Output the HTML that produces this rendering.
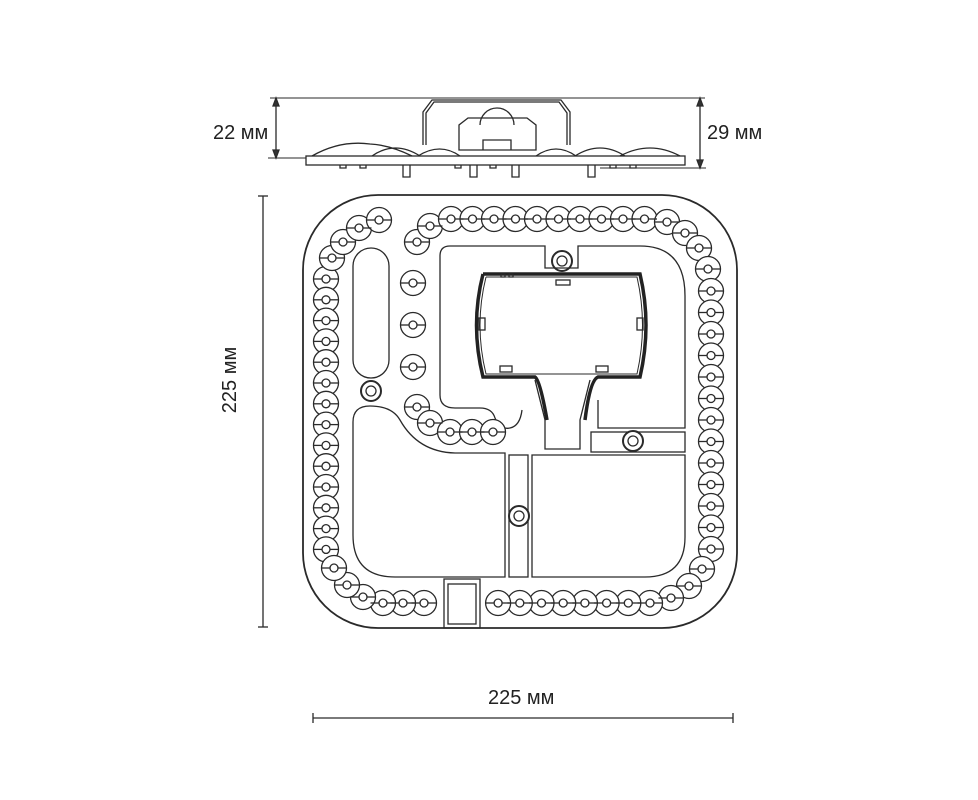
<!DOCTYPE html>
<html><head><meta charset="utf-8"><style>
html,body{margin:0;padding:0;background:#fff;}
svg{display:block;}
text{font-family:"Liberation Sans",sans-serif;font-size:20px;fill:#222;}
</style></head><body>
<svg id="s" width="978" height="800" viewBox="0 0 978 800" xmlns="http://www.w3.org/2000/svg">
<g fill="none" stroke="#2a2a2a" stroke-width="1.3">
<!-- side view -->
<line x1="270" y1="98" x2="705" y2="98" stroke-width="1"/>
<line x1="276" y1="98" x2="276" y2="158"/>
<line x1="268" y1="158" x2="306" y2="158" stroke-width="1"/>
<line x1="700" y1="98" x2="700" y2="168"/>
<line x1="600" y1="168" x2="706" y2="168" stroke-width="1"/>
<path d="M276,98 l-3,8 h6 z M276,158 l-3,-8 h6 z M700,98 l-3,8 h6 z M700,168 l-3,-8 h6 z" fill="#333"/>
<rect x="306" y="156" width="379" height="9"/>
<path d="M423,145 V112 L432,100 H561 L570,112 V145"/>
<path d="M426,145 V113 L434,102 H559 L567,113 V145"/>
<path d="M459,150 V125 L468,118 H527 L536,125 V150 Z"/>
<path d="M480,125 A17,17 0 0 1 514,125"/>
<path d="M483,150 V140 H511 V150"/>
<path d="M312,156 Q340,140 370,144 Q390,145 412,156 M372,156 Q395,140 420,156 M418,156 Q440,142 460,156 M536,156 Q556,142 576,156 M575,156 Q600,140 625,156 M620,156 Q650,140 680,156"/>
<path d="M403,165 v12 h7 v-12 M470,165 v12 h7 v-12 M512,165 v12 h7 v-12 M588,165 v12 h7 v-12" />
<path d="M340,165 v3 h6 v-3 M360,165 v3 h6 v-3 M455,165 v3 h6 v-3 M490,165 v3 h6 v-3 M610,165 v3 h6 v-3 M630,165 v3 h6 v-3"/>

<!-- dimension lines top view -->
<line x1="263" y1="196" x2="263" y2="627" stroke-width="1.3"/>
<line x1="258" y1="196" x2="268" y2="196"/><line x1="258" y1="627" x2="268" y2="627"/>
<line x1="313" y1="718" x2="733" y2="718" stroke-width="1.3"/>
<line x1="313" y1="713" x2="313" y2="723"/><line x1="733" y1="713" x2="733" y2="723"/>

<!-- outer -->
<rect x="303" y="195" width="434" height="433" rx="75" stroke-width="1.8"/>
<rect x="353" y="248" width="36" height="130" rx="18"/>
<circle cx="371" cy="391" r="10" stroke-width="2"/><circle cx="371" cy="391" r="5"/>
<!-- lower left region -->
<path d="M353,422 Q353,406 370,406 Q392,406 400,420 Q418,452 455,453 H505 V577 H395 Q353,577 353,535 Z"/>
<rect x="509" y="455" width="19" height="122"/>
<circle cx="519" cy="516" r="10" fill="#fff" stroke-width="2"/><circle cx="519" cy="516" r="5"/>
<path d="M532,455 H685 V537 Q685,577 645,577 H532 Z"/>
<rect x="591" y="432" width="94" height="20"/>
<circle cx="633" cy="441" r="10" fill="#fff" stroke-width="2"/><circle cx="633" cy="441" r="5"/>
<rect x="444" y="579" width="36" height="49"/><rect x="448" y="584" width="28" height="40"/>
<!-- upper regions -->
<path d="M440,256 Q440,246 450,246 H545 V268 H578 V246 H640 Q685,246 685,296 V428 H598 V400"/>
<path d="M440,256 V395 Q440,408 455,408 H480 Q492,408 495,418 Q500,430 510,428 Q520,426 522,410"/>
<circle cx="562" cy="261" r="10" stroke-width="2"/><circle cx="562" cy="261" r="5"/>
<!-- stem -->
<path d="M535,380 L545,420 V449 H580 V420 L590,380"/>
<!-- driver bracket -->
<path d="M483,274 H640 Q652,325 640,377 H598 Q590,380 585,420 M483,274 Q470,325 483,377 H535 Q540,380 547,420" stroke="#222" stroke-width="3.5"/>
<path d="M486,277 H637 Q648,325 637,374 H486 Q474,325 486,277" stroke-width="1"/>
<rect x="556" y="280" width="14" height="5"/><rect x="501" y="274" width="4" height="3"/><rect x="509" y="274" width="4" height="3"/>
<rect x="637" y="318" width="6" height="12"/><rect x="479" y="318" width="6" height="12"/>
<rect x="500" y="366" width="12" height="6"/><rect x="596" y="366" width="12" height="6"/>
<g id="leds"></g>
</g>
<text x="213" y="139">22 мм</text>
<text x="707" y="139">29 мм</text>
<text x="488" y="704">225 мм</text>
<text transform="translate(236,380) rotate(-90)" text-anchor="middle">225 мм</text>
</svg>
<script>
var pts=[];
function add(x,y){pts.push([x,y]);}
for(var i=0;i<14;i++)add(326,279+i*20.8);
[[332,258],[343,242],[359,228],[379,220]].forEach(function(p){add(p[0],p[1]);});
[[417,242],[430,226]].forEach(function(p){add(p[0],p[1]);});
for(var i=0;i<10;i++)add(451+i*21.5,219);
[[667,222],[685,233],[699,248],[708,269]].forEach(function(p){add(p[0],p[1]);});
for(var i=0;i<13;i++)add(711,291+i*21.5);
[[702,569],[689,586],[671,598]].forEach(function(p){add(p[0],p[1]);});
for(var i=0;i<8;i++)add(650-i*21.7,603);
[[424,603],[403,603],[383,603],[363,597],[347,585],[334,568]].forEach(function(p){add(p[0],p[1]);});
[[413,283],[413,325],[413,367],[417,407],[430,423],[450,432],[472,432],[493,432]].forEach(function(p){add(p[0],p[1]);});
var g=document.getElementById('leds'),h='';
pts.forEach(function(p){
h+='<circle cx="'+p[0]+'" cy="'+p[1]+'" r="12.5" fill="#fff"/>';
});
pts.forEach(function(p){
h+='<line x1="'+(p[0]-12.5)+'" y1="'+p[1]+'" x2="'+(p[0]-4)+'" y2="'+p[1]+'"/><line x1="'+(p[0]+4)+'" y1="'+p[1]+'" x2="'+(p[0]+12.5)+'" y2="'+p[1]+'"/><circle cx="'+p[0]+'" cy="'+p[1]+'" r="4"/>';
});
g.innerHTML=h;
</script>
</body></html>
